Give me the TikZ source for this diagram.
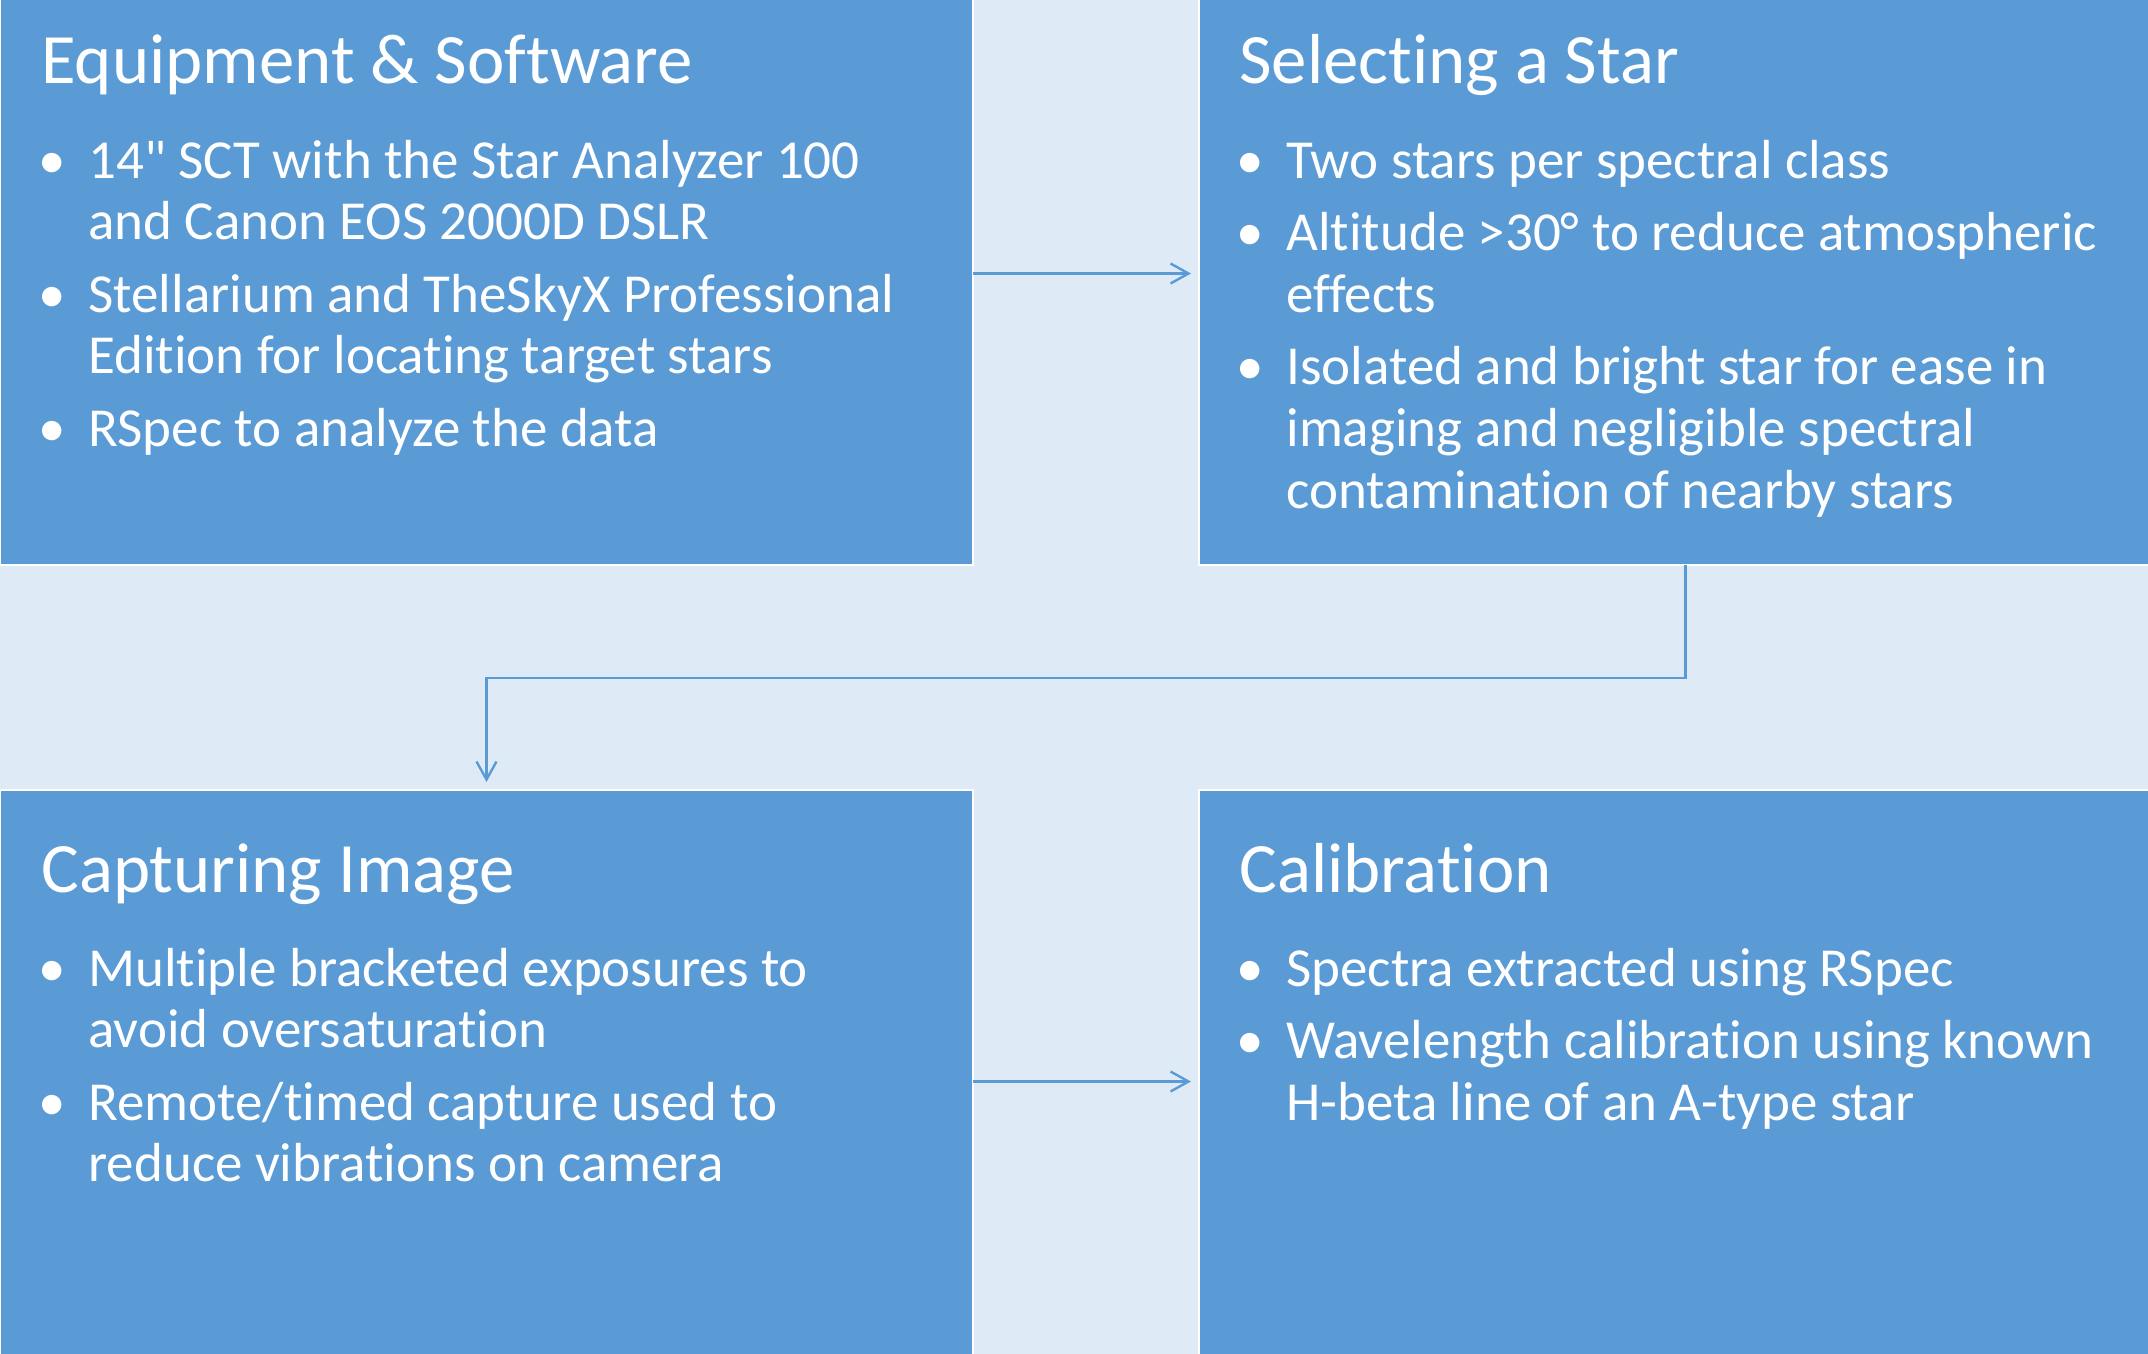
\documentclass[tikz,border=0pt]{standalone}
\usepackage{fontspec}
\setmainfont{Carlito}[Ligatures={TeXOff,NoCommon}]
\usepackage{tikz}
\usetikzlibrary{arrows.meta}

\definecolor{boxblue}{HTML}{5B9BD5}
\definecolor{paleblue}{HTML}{DEEBF7}

\newcommand{\dotcol}{\makebox[36pt]{\textbullet}}

\begin{document}
\begin{tikzpicture}[x=0.5pt, y=-0.5pt,
    stage/.style={draw=white, line width=0.75pt, fill=boxblue, inner sep=0pt, outer sep=0pt,
        minimum width=486.5pt, minimum height=291.5pt},
    heading/.style={anchor=base west, inner sep=0pt, text=white, font=\fontsize{35.4}{40}\selectfont},
    points/.style={anchor=base west, inner sep=0pt, text=white, font=\fontsize{27.5}{30.8}\selectfont},
    flow/.style={draw=boxblue, line width=1.2pt, shorten >=4pt,
        -{Straight Barb[length=9pt, width=10pt, line width=1.2pt]}}]
    \useasboundingbox (0,0) rectangle (2148,1354);
    \clip (0,0) rectangle (2148,1354);
    \fill[paleblue] (0,0) rectangle (2148,1354);

    \node[stage] (equip) at (486.5,273.5) {};
    \node[stage] (select) at (1685.5,273.5) {};
    \node[stage] (capture) at (486.5,1081.5) {};
    \node[stage] (calib) at (1685.5,1081.5) {};

    \node[heading] (equip-title) at (41,84) {Equipment \& Software};
    \node[points] (equip-list) at (16,178) {\begin{tabular}[t]{@{}l@{}l@{}}
        \dotcol & 14" SCT with the Star Analyzer 100\\
                & and Canon EOS 2000D DSLR\\[5.5pt]
        \dotcol & Stellarium and TheSkyX Professional\\
                & Edition for locating target stars\\[5.5pt]
        \dotcol & RSpec to analyze the data
    \end{tabular}};

    \node[heading] (select-title) at (1239,84) {Selecting a Star};
    \node[points] (select-list) at (1214,178) {\begin{tabular}[t]{@{}l@{}l@{}}
        \dotcol & Two stars per spectral class\\[5.5pt]
        \dotcol & Altitude >30° to reduce atmospheric\\
                & effects\\[5.5pt]
        \dotcol & Isolated and bright star for ease in\\
                & imaging and negligible spectral\\
                & contamination of nearby stars
    \end{tabular}};

    \node[heading] (capture-title) at (41,892) {Capturing Image};
    \node[points] (capture-list) at (16,986) {\begin{tabular}[t]{@{}l@{}l@{}}
        \dotcol & Multiple bracketed exposures to\\
                & avoid oversaturation\\[5.5pt]
        \dotcol & Remote/timed capture used to\\
                & reduce vibrations on camera
    \end{tabular}};

    \node[heading] (calib-title) at (1239,892) {Calibration};
    \node[points] (calib-list) at (1214,986) {\begin{tabular}[t]{@{}l@{}l@{}}
        \dotcol & Spectra extracted using RSpec\\[5.5pt]
        \dotcol & Wavelength calibration using known\\
                & H-beta line of an A-type star
    \end{tabular}};

    \coordinate (mid) at (0,678);
    \draw[flow] (equip.east) -- (select.west);
    \draw[flow] (select.south) |- (capture.north |- mid) -- (capture.north);
    \draw[flow] (capture.east) -- (calib.west);
\end{tikzpicture}
\end{document}
